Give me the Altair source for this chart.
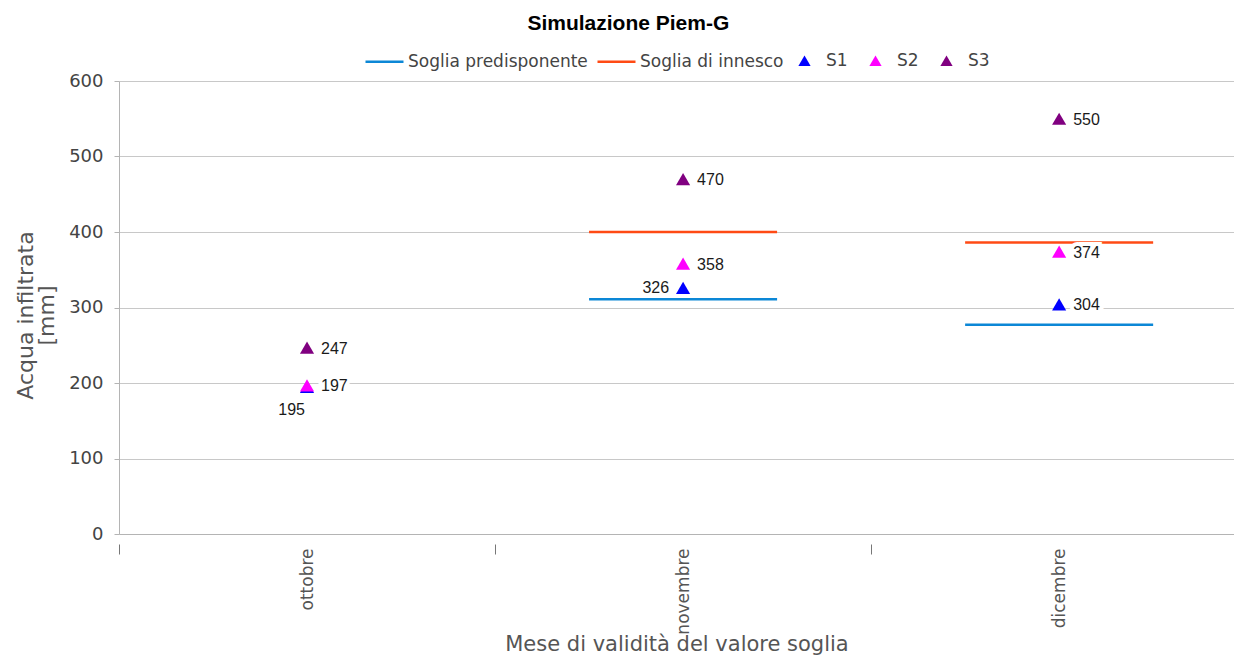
import json
import altair as alt
import pandas as pd

# ---- data ----
mesi = ["ottobre", "novembre", "dicembre"]
soglia_predisponente = [None, 311, 277]
soglia_innesco = [None, 400, 386]
s1 = [195, 326, 304]
s2 = [197, 358, 374]
s3 = [247, 470, 550]

soglie_nomi = ["Soglia predisponente", "Soglia di innesco"]
soglie_colori = ["#0C87D6", "#FF4A14"]
serie_nomi = ["S1", "S2", "S3"]
serie_colori = ["#0000FF", "#FF00FF", "#800080"]
y_ticks = [0, 100, 200, 300, 400, 500, 600]

rows_soglie = []
for i, m in enumerate(mesi):
    for nome, vals in zip(soglie_nomi, [soglia_predisponente, soglia_innesco]):
        if vals[i] is not None:
            rows_soglie.append({"mese": m, "soglia": nome, "valore": vals[i],
                                "x0": i + 0.25, "x1": i + 0.75})
rows_punti = []
for i, m in enumerate(mesi):
    for nome, vals in zip(serie_nomi, [s1, s2, s3]):
        rows_punti.append({"mese": m, "serie": nome, "valore": vals[i], "x": i + 0.5})

df_soglie = pd.DataFrame(rows_soglie)
df_punti = pd.DataFrame(rows_punti)

# the right edge of the last band is cut by the window in the reference
x_scale = alt.Scale(domain=[0, len(mesi) - 0.035], nice=False, zero=False)
y_scale = alt.Scale(domain=[0, 600], nice=False)

mesi_js = json.dumps(mesi)
x_axis = alt.Axis(
    values=[i * 0.5 for i in range(2 * len(mesi))],
    labelExpr=f"datum.value % 1 ? {mesi_js}[floor(datum.value)] : ''",
    labelAngle=270, labelFont="DejaVu Sans", labelFontSize=17, labelColor="#555555",
    labelPadding=-6, labelOverlap=False, labelFlush=False,
    tickColor={"condition": {"test": "datum.value % 1 === 0", "value": "#777777"},
               "value": "transparent"},
    tickSize=20, tickDash=[0, 10, 10, 100], tickWidth=1,
    domainColor="#b4b4b4", grid=False,
    title="Mese di validità del valore soglia", titleFont="DejaVu Sans",
    titleFontSize=21, titleFontWeight="normal", titleColor="#555555",
    titleBaseline="alphabetic", titleY=116,
)
y_axis = alt.Axis(
    values=y_ticks, title=["Acqua infiltrata", "[mm]"], titleFont="DejaVu Sans",
    titleFontSize=22, titleFontWeight="normal", titleColor="#555555", titlePadding=10,
    titleLineHeight=21, titleY=234,
    labelFont="DejaVu Sans", labelFontSize=18, labelColor="#444444", labelPadding=11,
    tickSize=5, tickColor="#b4b4b4", domainColor="#b4b4b4",
    grid=True, gridColor="#c8c8c8",
)

legend_soglie = alt.Legend(
    orient="none", legendX=245, legendY=-40, direction="horizontal", title=None,
    labelFont="DejaVu Sans", labelFontSize=17, labelColor="#444444", labelLimit=400,
    symbolType="stroke", symbolSize=1444, symbolStrokeWidth=2.5,
    columnPadding=4, labelOffset=3,
)
legend_serie = alt.Legend(
    orient="none", legendX=677, legendY=-29, direction="horizontal", title=None,
    labelFont="DejaVu Sans", labelFontSize=17, labelColor="#444444", labelLimit=400,
    symbolType="triangle-up", symbolSize=150, symbolStrokeWidth=0, symbolOpacity=1,
    columnPadding=19, labelOffset=13,
)

rules = alt.Chart(df_soglie).mark_rule(strokeWidth=2.5).encode(
    x=alt.X("x0:Q", scale=x_scale, axis=x_axis),
    x2="x1:Q",
    y=alt.Y("valore:Q", scale=y_scale, axis=y_axis),
    color=alt.Color("soglia:N", scale=alt.Scale(domain=soglie_nomi, range=soglie_colori),
                    legend=legend_soglie),
)

cond_below = "datum.serie == 'S1' && datum.mese == 'ottobre'"
cond_left = "datum.serie == 'S1' && datum.mese == 'novembre'"
cond_right = f"!({cond_below}) && !({cond_left})"

def label_layers(cond, align, dx, dy):
    base = alt.Chart(df_punti).transform_filter(cond).encode(
        x=alt.X("x:Q", scale=x_scale),
        y=alt.Y("valore:Q", scale=y_scale),
        text=alt.Text("valore:Q"),
    )
    kw = dict(align=align, dx=dx, dy=dy, baseline="middle",
              font="Liberation Sans", fontSize=16)
    halo = base.mark_text(stroke="white", strokeWidth=8, color="white", **kw)
    txt = base.mark_text(color="#1a1a1a", **kw)
    return halo, txt

h1, t1 = label_layers(cond_right, "left", 14, 1)
h2, t2 = label_layers(cond_left, "right", -14, 0)
h3, t3 = label_layers(cond_below, "right", -2, 23)

points = alt.Chart(df_punti).mark_point(
    shape="triangle-up", filled=True, size=200, opacity=1
).encode(
    x=alt.X("x:Q", scale=x_scale),
    y=alt.Y("valore:Q", scale=y_scale),
    color=alt.Color("serie:N", scale=alt.Scale(domain=serie_nomi, range=serie_colori),
                    legend=legend_serie),
)

chart = alt.layer(rules, h1, h2, h3, t1, t2, t3, points).resolve_scale(
    color="independent"
).properties(
    width=1115, height=453,
    autosize=alt.AutoSizeParams(type="none"),
    padding={"left": 111, "top": 73, "right": 0, "bottom": 121},
    title=alt.TitleParams("Simulazione Piem-G", font="Liberation Sans", fontSize=21,
                          fontWeight="bold", color="#000000", anchor="middle",
                          frame="bounds", offset=7, dx=4),
).configure_view(stroke=None)

chart.save("out.html", embed_options={"renderer": "svg", "actions": False})
